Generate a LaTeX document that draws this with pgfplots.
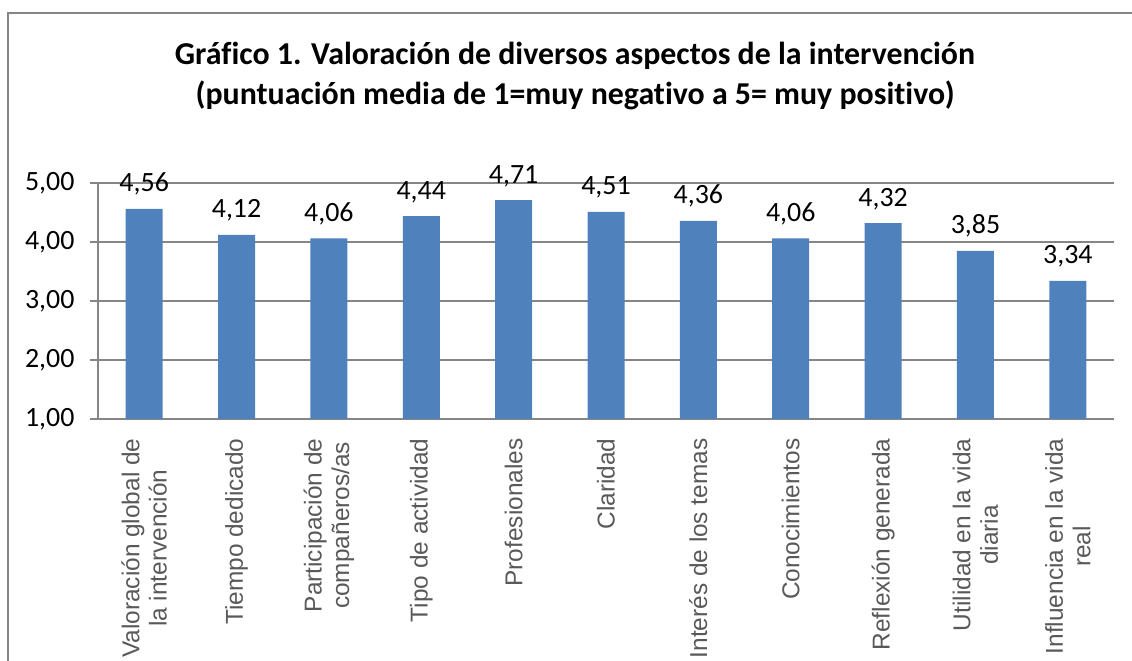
\documentclass[border=0pt]{standalone}
\usepackage{fontspec}
\setmainfont{Carlito}[Ligatures={NoCommon}]
\newfontfamily\arialfont{Liberation Sans}
\usepackage{pgfplots}
\pgfplotsset{compat=1.18}
\definecolor{barblue}{HTML}{4F81BD}
\definecolor{gridgray}{HTML}{868686}
\definecolor{labgray}{HTML}{595959}
\begin{document}
\begin{tikzpicture}[x=1bp,y=1bp]
\useasboundingbox (0,0) rectangle (1132,661);
\clip (0,0) rectangle (1132,661);
\draw[gridgray, line width=1.5bp] (8,-5) -- (8,648) -- (1140,648);
\node[font=\bfseries\fontsize{32}{38}\selectfont, anchor=base] at (575,596) {Gráfico 1. Valoración de diversos aspectos de la intervención};
\node[font=\bfseries\fontsize{32}{38}\selectfont, anchor=base] at (575,556) {(puntuación media de 1=muy negativo a 5= muy positivo)};
\begin{axis}[
  at={(98bp,242bp)}, anchor=south west,
  scale only axis, width=1016bp, height=236bp,
  ybar, bar width=37bp,
  xmin=0.5, xmax=11.5, ymin=1, ymax=5,
  ytick={1,2,3,4,5},
  axis x line*=bottom, axis y line*=left,
  axis line style={gridgray, line width=1.2bp, -},
  ymajorgrids, grid style={gridgray, line width=1.2bp},
  tick align=outside,
  major tick length=8bp,
  ytick style={gridgray, line width=1.2bp},
  xtick={1,...,11},
  xtick style={draw=none},
  extra x ticks={0.5,1.5,...,11.5},
  extra x tick labels={},
  extra x tick style={grid=none, tick style={gridgray, line width=1.2bp, draw=gridgray}},
  xticklabels={{Valoración global de\\la intervención}, Tiempo dedicado, {Participación de\\compañeros/as}, Tipo de actividad, Profesionales, Claridad, Interés de los temas, Conocimientos, Reflexión generada, {Utilidad en la vida\\diaria}, {Influencia en la vida\\real}},
  xticklabel style={rotate=90, anchor=east, align=center, font=\arialfont\fontsize{24.5}{27.5}\selectfont, text=labgray, xshift=-8bp},
  yticklabel style={font=\fontsize{28}{31}\selectfont, text=black, xshift=-12bp},
  /pgf/number format/assume math mode=true,
  yticklabel={\pgfmathprintnumber[fixed,precision=2,fixed zerofill,use comma]{\tick}},
  nodes near coords={\pgfmathprintnumber[fixed,precision=2,fixed zerofill,use comma,assume math mode=true]{\pgfplotspointmeta}},
  nodes near coords style={font=\fontsize{28}{31}\selectfont, anchor=base, yshift=17bp, text=black},
]
\addplot[fill=barblue, draw=none] coordinates {
(1,4.56) (2,4.12) (3,4.06) (4,4.44) (5,4.71) (6,4.51) (7,4.36) (8,4.06) (9,4.32) (10,3.85) (11,3.34)};
\end{axis}
\end{tikzpicture}
\end{document}
